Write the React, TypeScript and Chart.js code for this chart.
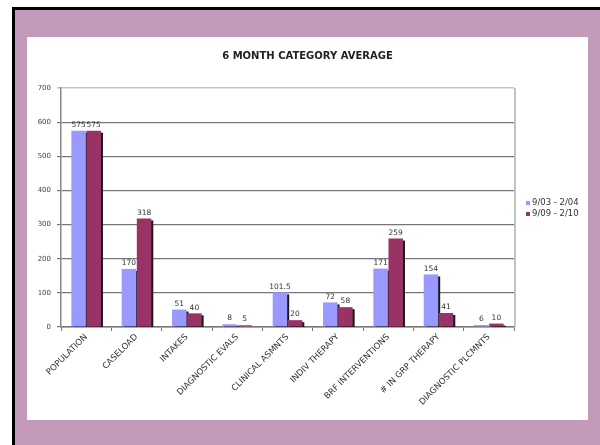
import React, { useEffect, useRef } from "react";
import { Chart, registerables } from "chart.js";

Chart.register(...registerables);

const chartTitle = "6 MONTH CATEGORY AVERAGE";
const categories = [
  "POPULATION",
  "CASELOAD",
  "INTAKES",
  "DIAGNOSTIC EVALS",
  "CLINICAL ASMNTS",
  "INDIV THERAPY",
  "BRF INTERVENTIONS",
  "# IN GRP THERAPY",
  "DIAGNOSTIC PLCMNTS",
];
const seriesLabels = ["9/03 - 2/04", "9/09 - 2/10"];
const series1 = [575, 170, 51, 8, 101.5, 72, 171, 154, 6];
const series2 = [575, 318, 40, 5, 20, 58, 259, 41, 10];
const yMin = 0;
const yMax = 700;
const yStep = 100;

const BLUE = "#9999ff";
const MAROON = "#993366";
const FONT = "'DejaVu Sans', Verdana, sans-serif";

const shadowPlugin = {
  id: "barShadow",
  beforeDatasetsDraw(chart: any) {
    const ctx = chart.ctx;
    const base = chart.scales.y.getPixelForValue(0);
    ctx.save();
    ctx.fillStyle = "#1a1a1a";
    chart.data.datasets.forEach((_ds: any, i: number) => {
      const meta = chart.getDatasetMeta(i);
      meta.data.forEach((bar: any) => {
        const w = bar.width;
        const left = bar.x - w / 2 + 2;
        const top = bar.y + 2;
        if (base - top > 0) ctx.fillRect(left, top, w, base - top);
      });
    });
    ctx.restore();
  },
};

const labelsPlugin = {
  id: "valueLabels",
  afterDatasetsDraw(chart: any) {
    const ctx = chart.ctx;
    ctx.save();
    ctx.font = `7.5px ${FONT}`;
    ctx.fillStyle = "#333";
    ctx.textAlign = "center";
    ctx.textBaseline = "bottom";
    chart.data.datasets.forEach((ds: any, i: number) => {
      const meta = chart.getDatasetMeta(i);
      meta.data.forEach((bar: any, j: number) => {
        ctx.fillText(String(ds.data[j]), bar.x, bar.y - 2);
      });
    });
    ctx.restore();
  },
};

const framePlugin = {
  id: "frame",
  afterDraw(chart: any) {
    const { ctx, chartArea, width } = chart;
    ctx.save();
    // title
    ctx.font = `bold 10px ${FONT}`;
    ctx.fillStyle = "#222";
    ctx.textAlign = "center";
    ctx.textBaseline = "middle";
    ctx.fillText(chartTitle, width / 2, 19);
    // right frame
    ctx.strokeStyle = "#c4c4c4";
    ctx.lineWidth = 2;
    ctx.beginPath();
    ctx.moveTo(chartArea.right + 1, chartArea.top);
    ctx.lineTo(chartArea.right + 1, chartArea.bottom);
    ctx.stroke();
    // legend
    const lx = chartArea.right + 12;
    const ly = [166, 177];
    ctx.font = `8.5px ${FONT}`;
    ctx.textBaseline = "middle";
    ctx.textAlign = "left";
    chart.data.datasets.forEach((ds: any, i: number) => {
      ctx.fillStyle = ds.backgroundColor;
      ctx.fillRect(lx, ly[i] - 2, 4, 4);
      ctx.fillStyle = "#333";
      ctx.fillText(ds.label, lx + 6, ly[i]);
    });
    ctx.restore();
  },
};

function ChartCanvas() {
  const ref = useRef<HTMLCanvasElement | null>(null);
  useEffect(() => {
    if (!ref.current) return;
    const chart = new Chart(ref.current, {
      type: "bar",
      data: {
        labels: categories,
        datasets: [
          { label: seriesLabels[0], data: series1, backgroundColor: BLUE, borderWidth: 0 },
          { label: seriesLabels[1], data: series2, backgroundColor: MAROON, borderWidth: 0 },
        ],
      },
      options: {
        animation: false,
        responsive: false,
        maintainAspectRatio: false,
        devicePixelRatio: 1,
        layout: { padding: { left: 0, right: 74, top: 51, bottom: 0 } },
        plugins: {
          legend: { display: false },
          tooltip: { enabled: false },
          title: { display: false },
        },
        datasets: {
          bar: { categoryPercentage: 0.6, barPercentage: 0.96 },
        },
        scales: {
          x: {
            grid: {
              display: true,
              offset: true,
              drawOnChartArea: false,
              drawTicks: true,
              tickLength: 4,
              color: "#777",
            },
            border: { display: true, color: "#777", width: 1.5 },
            ticks: {
              autoSkip: false,
              minRotation: 45,
              maxRotation: 45,
              padding: 1,
              color: "#333",
              font: { family: FONT, size: 8.5 },
            },
            afterFit(scale: any) {
              scale.height = 93;
            },
          },
          y: {
            min: yMin,
            max: yMax,
            ticks: {
              stepSize: yStep,
              color: "#444",
              padding: 6,
              font: { family: FONT, size: 7 },
            },
            grid: {
              color: (c: any) => (c.tick && c.tick.value === yMax ? "#c4c4c4" : "#777"),
              lineWidth: (c: any) => (c.tick && c.tick.value === yMax ? 1.5 : 1.2),
              drawTicks: true,
              tickLength: 4,
            },
            border: { display: true, color: "#888", width: 1.5 },
            afterFit(scale: any) {
              scale.width = 34;
            },
          },
        },
      },
      plugins: [shadowPlugin, labelsPlugin, framePlugin],
    });
    return () => chart.destroy();
  }, []);
  return <canvas ref={ref} width={561} height={383} style={{ display: "block" }} />;
}

export default function App() {
  return (
    <div
      style={{
        position: "fixed",
        left: 0,
        top: 0,
        width: 600,
        height: 445,
        background: "#fff",
        overflow: "hidden",
      }}
    >
      <div
        style={{
          position: "absolute",
          left: 12,
          top: 7,
          width: 600 - 12,
          height: 445 - 7,
          boxSizing: "border-box",
          borderLeft: "3px solid #000",
          borderTop: "3px solid #000",
          background: "#c49abb",
        }}
      />
      <div
        style={{
          position: "absolute",
          left: 27,
          top: 37,
          width: 561,
          height: 383,
          background: "#fff",
        }}
      >
        <ChartCanvas />
      </div>
    </div>
  );
}
